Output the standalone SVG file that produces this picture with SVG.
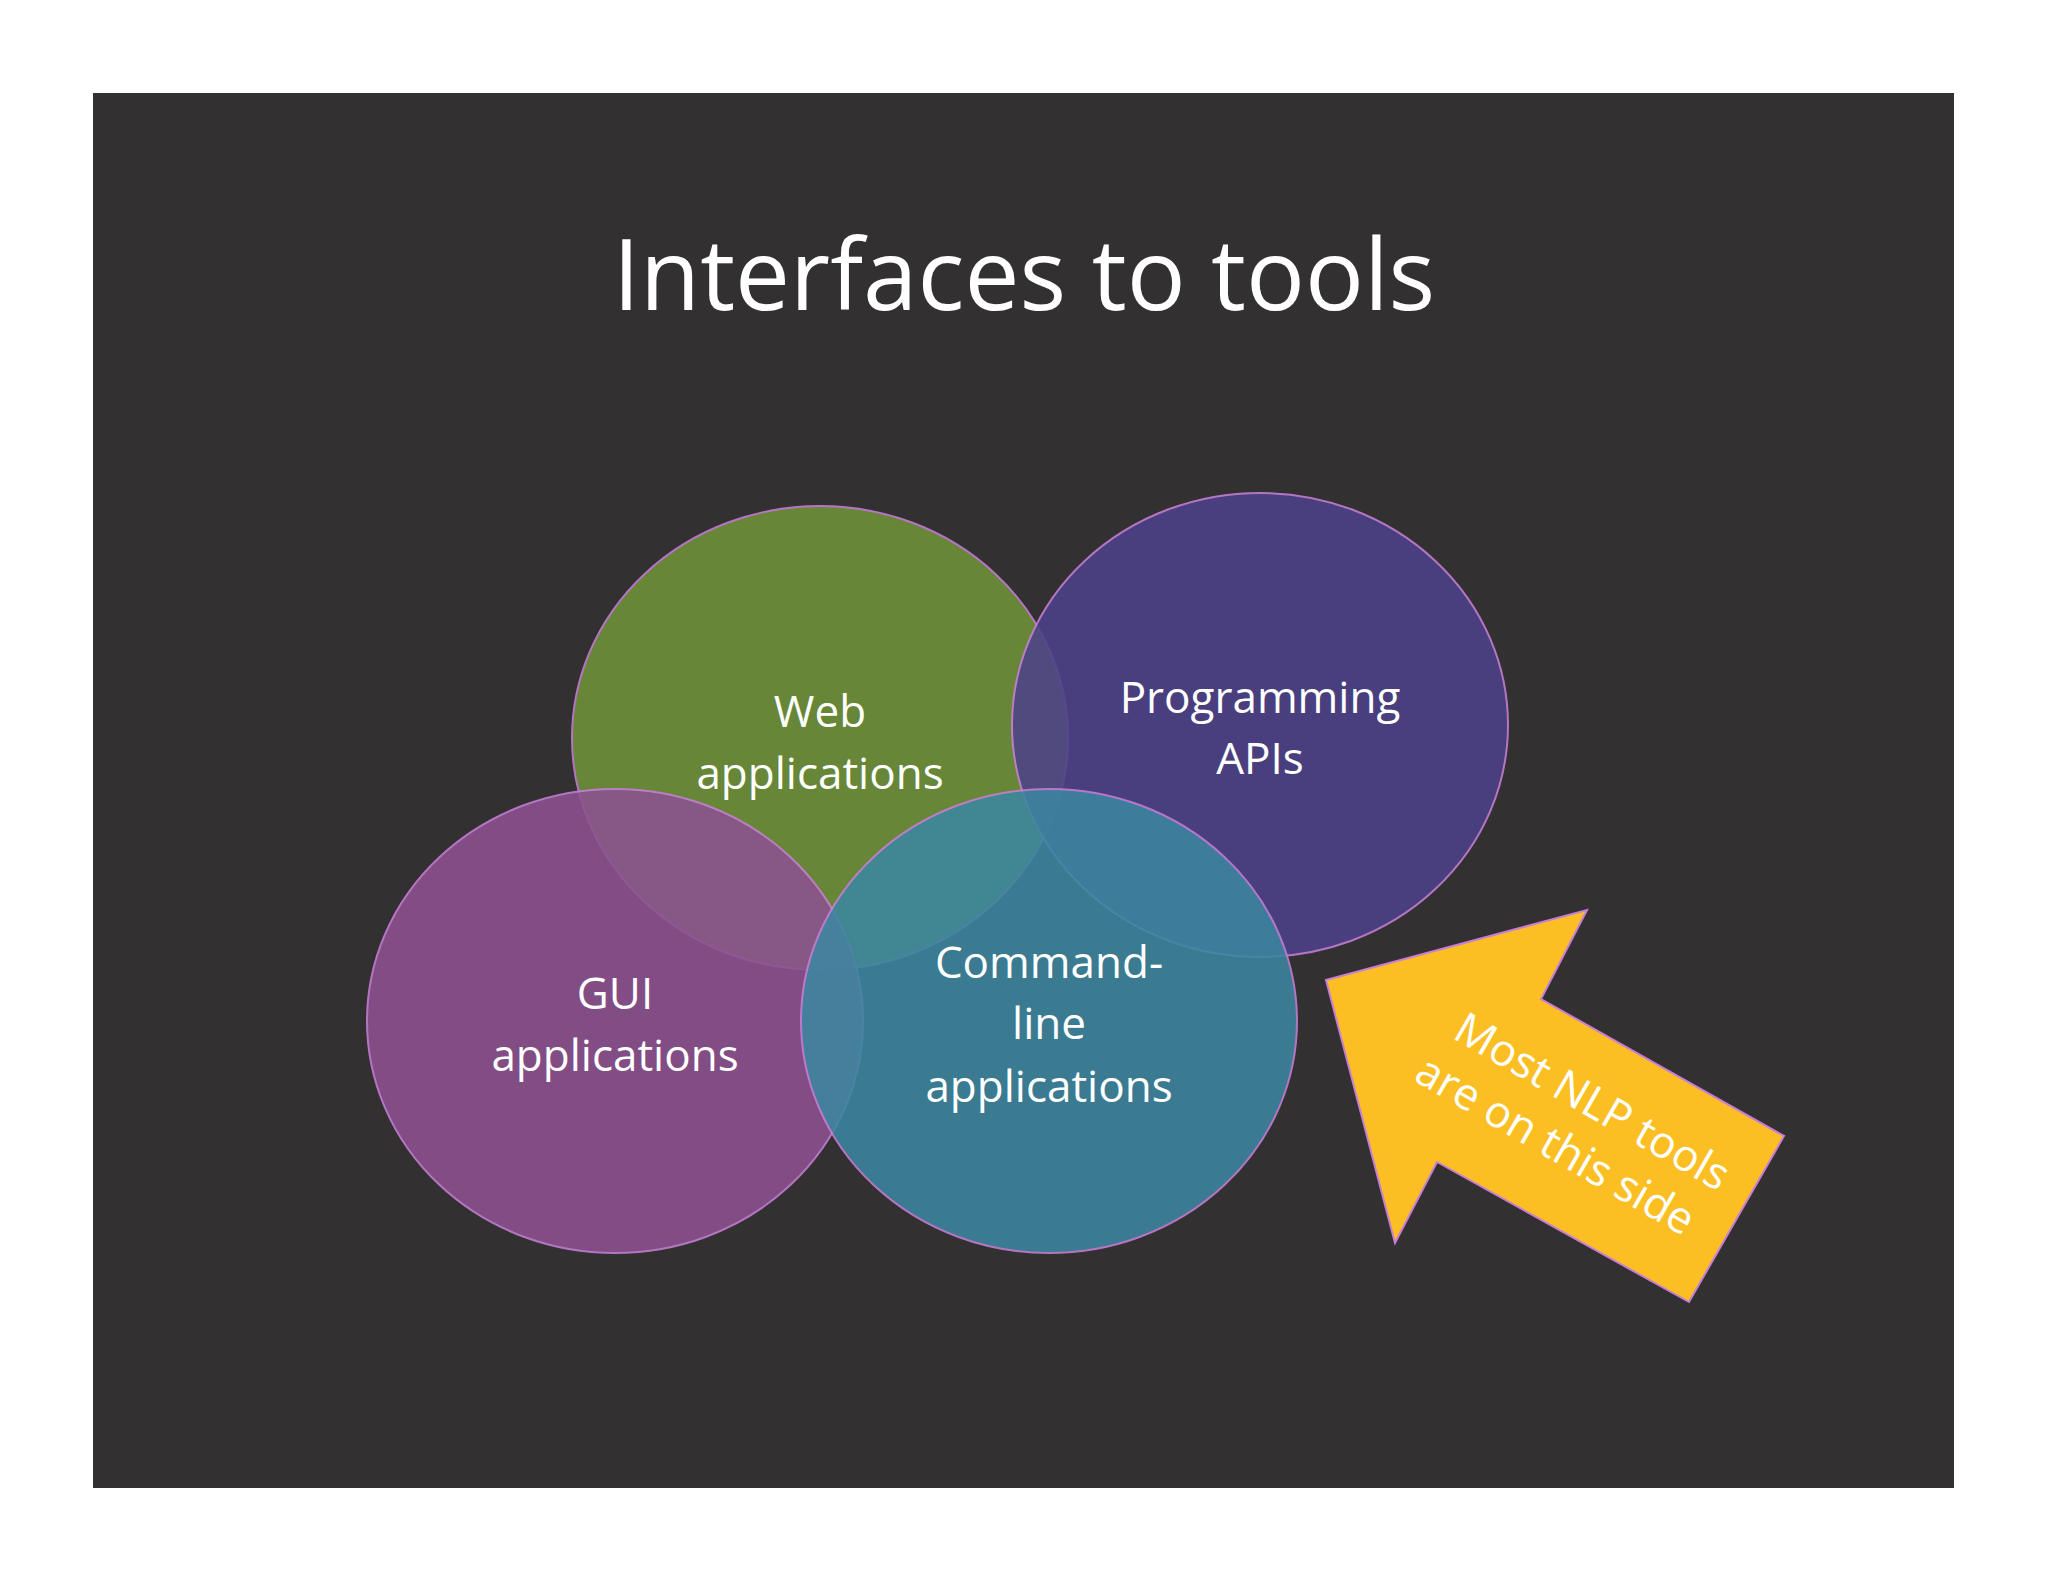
<svg xmlns="http://www.w3.org/2000/svg" width="2048" height="1582" viewBox="0 0 2048 1582">
<style>
.c{stroke:#c77fd6;stroke-width:2;opacity:0.88}
.t{font-family:"Open Sans","Liberation Sans",sans-serif;fill:#fff;font-size:44px;text-anchor:middle}
</style>
<rect width="2048" height="1582" fill="#fff"/>
<rect x="93" y="93" width="1861" height="1395" fill="#323031"/>
<text x="1024" y="310" class="t" style="font-size:98px">Interfaces to tools</text>
<g id="web"><ellipse class="c" cx="820" cy="738" rx="248" ry="232" fill="#6f9238"/></g>
<g id="api"><ellipse class="c" cx="1260" cy="725" rx="248" ry="232" fill="#4e4289"/></g>
<g id="gui"><ellipse class="c" cx="615" cy="1021" rx="248" ry="232" fill="#8c5290"/></g>
<g id="cmd"><ellipse class="c" cx="1049" cy="1021" rx="248" ry="232" fill="#3c86a0"/></g>
<g id="labels">
<text class="t" x="820" y="727">Web</text><text class="t" x="820" y="789">applications</text>
<text class="t" x="1260" y="713">Programming</text><text class="t" x="1260" y="774">APIs</text>
<text class="t" x="615" y="1009">GUI</text><text class="t" x="615" y="1071">applications</text>
<text class="t" x="1049" y="978">Command-</text><text class="t" x="1049" y="1039">line</text><text class="t" x="1049" y="1102">applications</text>
</g>
<g id="arrow">
<polygon points="1326,980 1587,910 1541,999 1784,1136 1689,1302 1437,1162 1395,1243" fill="#fbbf24" stroke="#c77fd6" stroke-width="2"/>
<g transform="translate(1570,1120) rotate(30)">
<text class="t" x="10" y="-12">Most NLP tools</text>
<text class="t" x="0" y="44">are on this side</text>
</g>
</g>
</svg>
